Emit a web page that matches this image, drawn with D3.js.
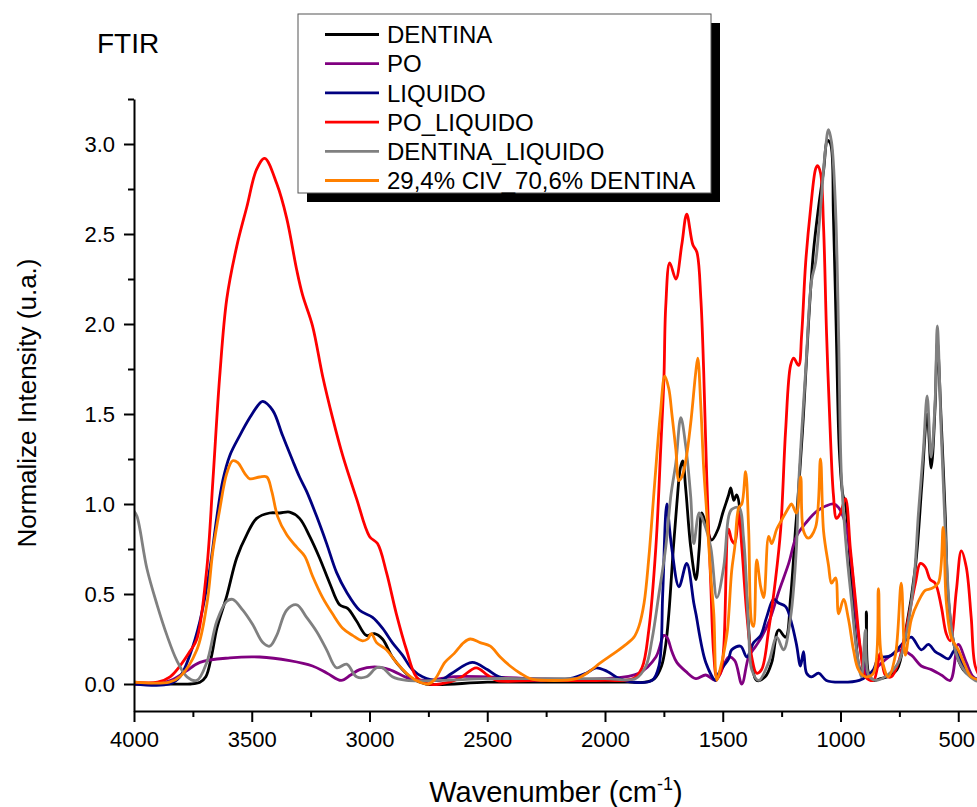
<!DOCTYPE html>
<html>
<head>
<meta charset="utf-8">
<script src="https://cdn.jsdelivr.net/npm/d3@7"></script>
<style>
  body { margin: 0; background: #fff; }
  svg { font-family: 'Liberation Sans', Arial, sans-serif; }
</style>
</head>
<body>
<svg id="graph" width="977" height="807"></svg>
<script>
// [wavenumber, intensity]
const dentina = [
  [4000, 0.0], [3850, 0.0], [3760, 0.0], [3720, 0.01], [3695, 0.04], [3670, 0.16], [3648, 0.31],
  [3606, 0.49], [3564, 0.70], [3521, 0.83], [3479, 0.92], [3424, 0.95], [3381, 0.95], [3339, 0.955],
  [3297, 0.92], [3254, 0.82], [3212, 0.70], [3169, 0.56], [3127, 0.44], [3093, 0.42], [3055, 0.35],
  [3013, 0.27], [2979, 0.28], [2945, 0.25], [2903, 0.15], [2860, 0.08], [2818, 0.03], [2760, 0.0],
  [2500, 0.01], [2200, 0.01], [1900, 0.01], [1830, 0.01], [1790, 0.03], [1760, 0.1], [1742, 0.22],
  [1729, 0.39], [1710, 0.75], [1695, 1.0], [1680, 1.2], [1670, 1.24], [1657, 1.08], [1636, 0.76],
  [1614, 0.58], [1600, 0.75], [1589, 0.95], [1570, 0.88], [1547, 0.80], [1520, 0.86], [1500, 0.95],
  [1475, 1.05], [1466, 1.09], [1453, 1.02], [1441, 1.05], [1419, 0.87], [1398, 0.48], [1377, 0.12],
  [1356, 0.02], [1320, 0.04], [1292, 0.12], [1263, 0.30], [1233, 0.26], [1212, 0.48], [1191, 0.86],
  [1178, 1.08], [1157, 1.5], [1136, 2.0], [1115, 2.4], [1093, 2.65], [1072, 2.85], [1055, 3.02],
  [1042, 3.0], [1030, 2.6], [1017, 1.9], [1005, 1.3], [990, 1.05], [979, 1.0], [958, 0.66],
  [936, 0.26], [915, 0.08], [900, 0.08], [890, 0.40], [881, 0.06], [860, 0.02], [830, 0.03],
  [800, 0.04], [760, 0.08], [725, 0.28], [682, 0.65], [655, 1.1], [632, 1.5], [615, 1.2],
  [598, 1.55], [589, 1.9], [572, 1.45], [555, 0.93], [542, 0.47], [513, 0.19], [479, 0.08],
  [445, 0.04], [400, 0.01]
]

const po = [
  [4000, 0.0], [3900, 0.0], [3843, 0.02], [3780, 0.07], [3720, 0.12], [3593, 0.145], [3466, 0.15],
  [3339, 0.13], [3242, 0.10], [3180, 0.06], [3120, 0.02], [3080, 0.05], [3042, 0.08], [2979, 0.095],
  [2915, 0.08], [2830, 0.03], [2750, 0.02], [2650, 0.04], [2500, 0.04], [2300, 0.03], [2000, 0.03],
  [1856, 0.06], [1784, 0.15], [1750, 0.27], [1737, 0.26], [1716, 0.18], [1695, 0.12], [1657, 0.07],
  [1614, 0.03], [1572, 0.05], [1530, 0.02], [1475, 0.15], [1449, 0.13], [1419, 0.0], [1390, 0.15],
  [1360, 0.21], [1335, 0.26], [1297, 0.37], [1263, 0.51], [1220, 0.67], [1187, 0.82], [1144, 0.9],
  [1100, 0.96], [1060, 0.99], [1030, 1.0], [1008, 0.98], [979, 0.89], [953, 0.66], [932, 0.36],
  [911, 0.16], [881, 0.04], [839, 0.10], [784, 0.16], [742, 0.19], [699, 0.16], [657, 0.10],
  [614, 0.08], [572, 0.05], [534, 0.02], [500, 0.22], [466, 0.12], [436, 0.04], [400, 0.02]
]

const liquido = [
  [4000, 0.0], [3850, 0.0], [3805, 0.04], [3763, 0.16], [3720, 0.35], [3678, 0.64], [3648, 0.93],
  [3623, 1.13], [3593, 1.27], [3551, 1.38], [3508, 1.48], [3466, 1.56], [3453, 1.57], [3411, 1.52],
  [3369, 1.38], [3326, 1.24], [3297, 1.15], [3267, 1.07], [3224, 0.93], [3182, 0.78], [3140, 0.62],
  [3097, 0.51], [3042, 0.41], [2987, 0.37], [2945, 0.31], [2903, 0.23], [2860, 0.16], [2818, 0.08],
  [2775, 0.04], [2700, 0.02], [2650, 0.06], [2564, 0.12], [2500, 0.08], [2450, 0.04], [2350, 0.02],
  [2150, 0.03], [2080, 0.06], [2038, 0.09], [1990, 0.07], [1940, 0.03], [1880, 0.01], [1800, 0.02],
  [1771, 0.1], [1755, 0.5], [1742, 0.95], [1737, 1.0], [1725, 0.85], [1716, 0.75], [1686, 0.54],
  [1653, 0.67], [1623, 0.45], [1614, 0.39], [1572, 0.12], [1530, 0.02], [1517, 0.06], [1496, 0.10],
  [1475, 0.14], [1462, 0.19], [1424, 0.21], [1398, 0.15], [1369, 0.23], [1339, 0.27], [1314, 0.37],
  [1284, 0.47], [1263, 0.45], [1233, 0.43], [1208, 0.34], [1187, 0.22], [1170, 0.1], [1157, 0.18],
  [1144, 0.06], [1123, 0.04], [1093, 0.06], [1060, 0.02], [1000, 0.01], [920, 0.02], [881, 0.05],
  [860, 0.08], [839, 0.14], [784, 0.16], [725, 0.24], [699, 0.26], [657, 0.19], [627, 0.22],
  [598, 0.18], [572, 0.16], [542, 0.14], [513, 0.19], [479, 0.10], [445, 0.04], [400, 0.02]
]

const poLiquido = [
  [4000, 0.01], [3900, 0.01], [3847, 0.04], [3805, 0.1], [3763, 0.18], [3733, 0.25], [3691, 0.64],
  [3665, 1.13], [3636, 1.71], [3606, 2.14], [3564, 2.43], [3521, 2.65], [3479, 2.86], [3445, 2.92],
  [3394, 2.78], [3352, 2.59], [3309, 2.30], [3284, 2.16], [3242, 1.99], [3199, 1.71], [3157, 1.48],
  [3114, 1.27], [3055, 1.03], [3000, 0.82], [2966, 0.78], [2928, 0.62], [2886, 0.39], [2843, 0.19],
  [2801, 0.04], [2750, 0.0], [2700, 0.0], [2620, 0.03], [2547, 0.09], [2500, 0.05], [2460, 0.02],
  [2300, 0.02], [2000, 0.02], [1880, 0.03], [1843, 0.09], [1814, 0.3], [1784, 0.76], [1763, 1.32],
  [1750, 1.69], [1742, 2.1], [1725, 2.34], [1699, 2.25], [1674, 2.44], [1653, 2.61], [1627, 2.44],
  [1610, 2.40], [1593, 2.14], [1581, 1.74], [1568, 1.15], [1551, 0.56], [1538, 0.16], [1525, 0.04],
  [1510, 0.06], [1496, 0.2], [1475, 0.86], [1462, 0.8], [1449, 0.78], [1432, 0.95], [1419, 0.76],
  [1398, 0.39], [1377, 0.15], [1356, 0.06], [1335, 0.08], [1305, 0.3], [1276, 0.58], [1254, 0.86],
  [1233, 1.41], [1212, 1.77], [1199, 1.81], [1178, 1.77], [1165, 1.94], [1148, 2.34], [1127, 2.64],
  [1106, 2.86], [1098, 2.88], [1085, 2.84], [1072, 2.54], [1059, 1.94], [1042, 1.35], [1030, 1.05],
  [1017, 0.92], [1000, 0.95], [979, 1.03], [958, 0.75], [936, 0.46], [915, 0.19], [894, 0.04],
  [860, 0.02], [831, 0.17], [810, 0.05], [784, 0.04], [754, 0.12], [725, 0.28], [682, 0.56],
  [661, 0.67], [640, 0.65], [619, 0.58], [598, 0.56], [572, 0.43], [551, 0.28], [534, 0.24],
  [508, 0.52], [487, 0.74], [466, 0.65], [445, 0.37], [428, 0.10], [400, 0.02]
]

const dentinaLiquido = [
  [4000, 0.96], [3987, 0.93], [3945, 0.64], [3902, 0.44], [3860, 0.27], [3818, 0.13], [3775, 0.04],
  [3733, 0.02], [3691, 0.12], [3648, 0.35], [3606, 0.46], [3581, 0.47], [3538, 0.41], [3496, 0.33],
  [3453, 0.23], [3424, 0.21], [3394, 0.27], [3352, 0.41], [3309, 0.44], [3267, 0.37], [3224, 0.29],
  [3182, 0.19], [3140, 0.09], [3097, 0.11], [3055, 0.04], [3013, 0.04], [2970, 0.09], [2945, 0.09],
  [2903, 0.04], [2843, 0.02], [2700, 0.02], [2500, 0.03], [2300, 0.03], [2000, 0.03], [1870, 0.03],
  [1826, 0.1], [1800, 0.25], [1771, 0.5], [1742, 0.76], [1720, 1.05], [1699, 1.23], [1678, 1.48],
  [1657, 1.32], [1636, 1.04], [1623, 0.78], [1600, 0.95], [1581, 0.90], [1551, 0.76], [1525, 0.48],
  [1496, 0.65], [1475, 0.93], [1462, 0.97], [1432, 0.98], [1411, 0.8], [1390, 0.3], [1377, 0.08],
  [1347, 0.02], [1305, 0.12], [1271, 0.26], [1242, 0.19], [1212, 0.37], [1187, 0.76], [1178, 1.1],
  [1148, 1.74], [1123, 2.24], [1106, 2.34], [1085, 2.64], [1064, 2.97], [1051, 3.08], [1038, 3.01],
  [1021, 2.64], [1008, 1.94], [996, 1.15], [975, 0.75], [953, 0.46], [932, 0.19], [911, 0.04],
  [894, 0.30], [881, 0.05], [850, 0.02], [800, 0.05], [754, 0.12], [725, 0.25], [690, 0.55],
  [669, 0.95], [648, 1.3], [632, 1.60], [615, 1.26], [598, 1.58], [589, 1.99], [572, 1.39],
  [555, 0.84], [534, 0.37], [513, 0.19], [487, 0.1], [458, 0.05], [428, 0.02], [400, 0.01]
]

const mezcla = [
  [4000, 0.01], [3850, 0.01], [3805, 0.04], [3733, 0.19], [3691, 0.44], [3665, 0.74], [3636, 0.97],
  [3606, 1.17], [3581, 1.24], [3559, 1.23], [3530, 1.17], [3508, 1.14], [3466, 1.15], [3436, 1.15],
  [3415, 1.07], [3390, 0.93], [3352, 0.83], [3309, 0.76], [3275, 0.71], [3242, 0.60], [3199, 0.48],
  [3157, 0.39], [3114, 0.31], [3072, 0.27], [3030, 0.24], [3008, 0.25], [2992, 0.28], [2970, 0.23],
  [2928, 0.19], [2886, 0.12], [2843, 0.06], [2801, 0.02], [2750, 0.0], [2720, 0.03], [2680, 0.12],
  [2640, 0.17], [2600, 0.23], [2572, 0.25], [2530, 0.23], [2487, 0.21], [2445, 0.15], [2403, 0.10],
  [2360, 0.06], [2318, 0.03], [2250, 0.02], [2120, 0.03], [2077, 0.06], [2017, 0.12], [1962, 0.17],
  [1920, 0.21], [1877, 0.26], [1856, 0.32], [1834, 0.45], [1814, 0.7], [1790, 1.1], [1765, 1.5],
  [1746, 1.71], [1729, 1.64], [1716, 1.5], [1699, 1.3], [1686, 1.13], [1674, 1.15], [1657, 1.24],
  [1636, 1.45], [1614, 1.74], [1606, 1.81], [1593, 1.54], [1581, 1.2], [1568, 0.95], [1551, 0.6],
  [1538, 0.39], [1525, 0.02], [1508, 0.1], [1496, 0.17], [1480, 0.3], [1462, 0.63], [1449, 0.76],
  [1432, 0.98], [1419, 1.0], [1403, 1.18], [1390, 0.86], [1377, 0.34], [1369, 0.32], [1356, 0.69],
  [1339, 0.54], [1326, 0.48], [1305, 0.82], [1292, 0.78], [1271, 0.86], [1250, 0.91], [1220, 0.98],
  [1208, 1.0], [1187, 0.95], [1169, 1.15], [1157, 0.85], [1136, 0.81], [1106, 0.87], [1085, 1.25],
  [1072, 0.85], [1051, 0.66], [1038, 0.56], [1021, 0.59], [1008, 0.39], [987, 0.47], [966, 0.36],
  [945, 0.19], [924, 0.08], [894, 0.04], [860, 0.06], [839, 0.53], [827, 0.16], [797, 0.04],
  [767, 0.16], [742, 0.56], [725, 0.16], [699, 0.36], [669, 0.46], [640, 0.52], [614, 0.53],
  [585, 0.56], [564, 0.87], [551, 0.46], [530, 0.26], [500, 0.19], [470, 0.1], [445, 0.04], [400, 0.02]
]

const seriesNames = ['DENTINA', 'PO', 'LIQUIDO', 'PO_LIQUIDO', 'DENTINA_LIQUIDO', '29,4% CIV_70,6% DENTINA']
const seriesColors = ['#000000', '#800080', '#000080', '#ff0000', '#808080', '#ff8000']
const seriesData = [dentina, po, liquido, poLiquido, dentinaLiquido, mezcla]

const xMajor = [4000, 3500, 3000, 2500, 2000, 1500, 1000, 500]
const xMinor = [3750, 3250, 2750, 2250, 1750, 1250, 750]
const yMajor = [0, 0.5, 1.0, 1.5, 2.0, 2.5, 3.0]
const yMinor = [0.25, 0.75, 1.25, 1.75, 2.25, 2.75, 3.25]

const plotLeft = 134
const plotBottom = 711
const plotTop = 99

const svg = d3.select('#graph')

const xScale = d3.scaleLinear().domain([4000, 400]).range([plotLeft, plotLeft + 3600 * 0.2355])
const yScale = d3.scaleLinear().domain([-0.15, 3.25]).range([plotBottom, plotTop])

svg.append('defs').append('clipPath').attr('id', 'plot-clip')
  .append('rect')
  .attr('x', plotLeft).attr('y', plotTop - 2)
  .attr('width', 977 - plotLeft).attr('height', plotBottom - plotTop + 2)

const line = d3.line()
  .x(d => xScale(d[0]))
  .y(d => yScale(d[1]))
  .curve(d3.curveCatmullRom.alpha(0.5))

const curves = svg.append('g').attr('clip-path', 'url(#plot-clip)')
seriesData.forEach((s, i) => {
  curves.append('path')
    .datum(s)
    .attr('d', line)
    .attr('fill', 'none')
    .attr('stroke', seriesColors[i])
    .attr('stroke-width', 2.8)
    .attr('stroke-linejoin', 'round')
})

// axes
const styleAxis = g => {
  g.select('.domain').attr('stroke', '#000').attr('stroke-width', 2)
  g.selectAll('.tick line').attr('stroke', '#000').attr('stroke-width', 2)
  g.selectAll('.tick text').attr('fill', '#000').attr('font-size', 22)
    .attr('font-family', "'Liberation Sans', Arial, sans-serif")
}

svg.append('g')
  .attr('transform', `translate(0, ${plotBottom})`)
  .call(d3.axisBottom(xScale).tickValues(xMinor).tickSize(6).tickFormat('').tickSizeOuter(0))
  .call(g => g.select('.domain').remove())
  .call(styleAxis)

svg.append('g')
  .attr('transform', `translate(0, ${plotBottom})`)
  .call(d3.axisBottom(xScale).tickValues(xMajor).tickSize(11).tickPadding(9)
    .tickFormat(d3.format('d')).tickSizeOuter(0))
  .call(styleAxis)
  .call(g => g.selectAll('.tick text').filter(d => d === 500).attr('dx', -2))

svg.append('g')
  .attr('transform', `translate(${plotLeft}, 0)`)
  .call(d3.axisLeft(yScale).tickValues(yMinor).tickSize(6).tickFormat('').tickSizeOuter(0))
  .call(g => g.select('.domain').remove())
  .call(styleAxis)

svg.append('g')
  .attr('transform', `translate(${plotLeft}, 0)`)
  .call(d3.axisLeft(yScale).tickValues(yMajor).tickSize(10).tickPadding(9)
    .tickFormat(d3.format('.1f')).tickSizeOuter(0))
  .call(styleAxis)

// titles
svg.append('text')
  .attr('x', 97).attr('y', 53)
  .attr('font-size', 28)
  .text('FTIR')

svg.append('text')
  .attr('transform', 'translate(36, 403) rotate(-90)')
  .attr('text-anchor', 'middle')
  .attr('font-size', 26)
  .text('Normalize Intensity (u.a.)')

const xt = svg.append('text')
  .attr('x', 556).attr('y', 802)
  .attr('text-anchor', 'middle')
  .attr('font-size', 29)
xt.append('tspan').text('Wavenumber (cm')
xt.append('tspan').attr('font-size', 18).attr('dy', -12).text('-1')
xt.append('tspan').attr('dy', 12).text(')')

// legend
const legend = svg.append('g')
legend.append('rect')
  .attr('x', 307).attr('y', 23).attr('width', 413).attr('height', 179)
  .attr('fill', '#000')
legend.append('rect')
  .attr('x', 298).attr('y', 14).attr('width', 413).attr('height', 179)
  .attr('fill', '#fff').attr('stroke', '#555').attr('stroke-width', 1)

seriesNames.forEach((name, i) => {
  const y = 34.5 + i * 29.2
  legend.append('line')
    .attr('x1', 325).attr('x2', 379).attr('y1', y).attr('y2', y)
    .attr('stroke', seriesColors[i]).attr('stroke-width', 2.8)
  legend.append('text')
    .attr('x', 387).attr('y', y).attr('dy', '0.36em')
    .attr('font-size', 24)
    .text(name)
})
</script>
</body>
</html>
